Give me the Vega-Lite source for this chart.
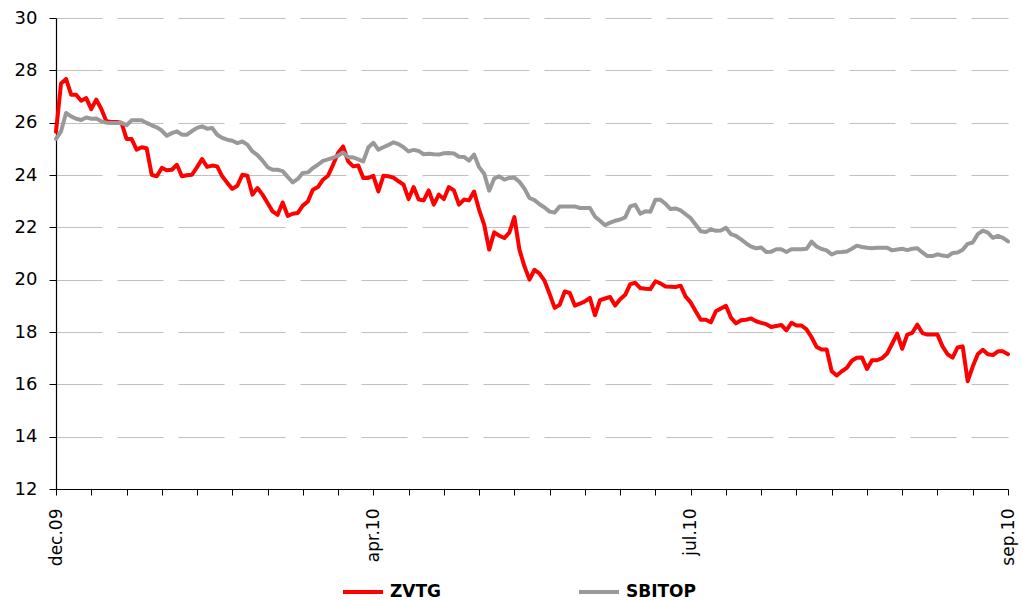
{
  "$schema": "https://vega.github.io/schema/vega-lite/v6.json",
  "width": 952,
  "height": 471,
  "autosize": {"type": "none"},
  "padding": {"left": 56, "top": 18, "right": 15, "bottom": 111},
  "background": "white",
  "config": {
    "view": {"stroke": null},
    "font": "DejaVu Sans",
    "axis": {"labelFont": "DejaVu Sans", "labelColor": "#000000", "labelFontSize": 17}
  },
  "data": {
    "values": [
      {"t":0,"ZVTG":25.65,"SBITOP":25.38},{"t":1,"ZVTG":27.5,"SBITOP":25.67},{"t":2,"ZVTG":27.67,"SBITOP":26.37},{"t":3,"ZVTG":27.07,"SBITOP":26.24},{"t":4,"ZVTG":27.07,"SBITOP":26.15},
      {"t":5,"ZVTG":26.84,"SBITOP":26.1},{"t":6,"ZVTG":26.94,"SBITOP":26.2},{"t":7,"ZVTG":26.52,"SBITOP":26.15},{"t":8,"ZVTG":26.88,"SBITOP":26.16},{"t":9,"ZVTG":26.52,"SBITOP":26.05},
      {"t":10,"ZVTG":26.05,"SBITOP":26.0},{"t":11,"ZVTG":26.03,"SBITOP":25.99},{"t":12,"ZVTG":26.03,"SBITOP":25.99},{"t":13,"ZVTG":26.0,"SBITOP":25.99},{"t":14,"ZVTG":25.38,"SBITOP":25.9},
      {"t":15,"ZVTG":25.38,"SBITOP":26.09},{"t":16,"ZVTG":24.97,"SBITOP":26.09},{"t":17,"ZVTG":25.06,"SBITOP":26.09},{"t":18,"ZVTG":25.02,"SBITOP":25.99},{"t":19,"ZVTG":24.01,"SBITOP":25.9},
      {"t":20,"ZVTG":23.95,"SBITOP":25.82},{"t":21,"ZVTG":24.27,"SBITOP":25.7},{"t":22,"ZVTG":24.18,"SBITOP":25.5},{"t":23,"ZVTG":24.2,"SBITOP":25.6},{"t":24,"ZVTG":24.39,"SBITOP":25.67},
      {"t":25,"ZVTG":23.95,"SBITOP":25.54},{"t":26,"ZVTG":23.99,"SBITOP":25.54},{"t":27,"ZVTG":24.01,"SBITOP":25.68},{"t":28,"ZVTG":24.3,"SBITOP":25.8},{"t":29,"ZVTG":24.61,"SBITOP":25.86},
      {"t":30,"ZVTG":24.31,"SBITOP":25.77},{"t":31,"ZVTG":24.36,"SBITOP":25.8},{"t":32,"ZVTG":24.33,"SBITOP":25.54},{"t":33,"ZVTG":23.95,"SBITOP":25.42},{"t":34,"ZVTG":23.7,"SBITOP":25.35},
      {"t":35,"ZVTG":23.47,"SBITOP":25.31},{"t":36,"ZVTG":23.59,"SBITOP":25.22},{"t":37,"ZVTG":24.01,"SBITOP":25.28},{"t":38,"ZVTG":23.97,"SBITOP":25.16},{"t":39,"ZVTG":23.25,"SBITOP":24.9},
      {"t":40,"ZVTG":23.5,"SBITOP":24.76},{"t":41,"ZVTG":23.25,"SBITOP":24.55},{"t":42,"ZVTG":22.93,"SBITOP":24.3},{"t":43,"ZVTG":22.61,"SBITOP":24.2},{"t":44,"ZVTG":22.48,"SBITOP":24.2},
      {"t":45,"ZVTG":22.95,"SBITOP":24.15},{"t":46,"ZVTG":22.44,"SBITOP":23.93},{"t":47,"ZVTG":22.52,"SBITOP":23.72},{"t":48,"ZVTG":22.55,"SBITOP":23.85},{"t":49,"ZVTG":22.83,"SBITOP":24.08},
      {"t":50,"ZVTG":22.99,"SBITOP":24.1},{"t":51,"ZVTG":23.44,"SBITOP":24.27},{"t":52,"ZVTG":23.54,"SBITOP":24.39},{"t":53,"ZVTG":23.82,"SBITOP":24.54},{"t":54,"ZVTG":23.97,"SBITOP":24.6},
      {"t":55,"ZVTG":24.39,"SBITOP":24.66},{"t":56,"ZVTG":24.84,"SBITOP":24.74},{"t":57,"ZVTG":25.09,"SBITOP":24.86},{"t":58,"ZVTG":24.52,"SBITOP":24.69},{"t":59,"ZVTG":24.33,"SBITOP":24.67},
      {"t":60,"ZVTG":24.36,"SBITOP":24.6},{"t":61,"ZVTG":23.89,"SBITOP":24.52},{"t":62,"ZVTG":23.89,"SBITOP":25.05},{"t":63,"ZVTG":23.97,"SBITOP":25.23},{"t":64,"ZVTG":23.37,"SBITOP":24.97},
      {"t":65,"ZVTG":23.97,"SBITOP":25.06},{"t":66,"ZVTG":23.95,"SBITOP":25.15},{"t":67,"ZVTG":23.9,"SBITOP":25.25},{"t":68,"ZVTG":23.76,"SBITOP":25.18},{"t":69,"ZVTG":23.63,"SBITOP":25.06},
      {"t":70,"ZVTG":23.08,"SBITOP":24.9},{"t":71,"ZVTG":23.54,"SBITOP":24.96},{"t":72,"ZVTG":23.06,"SBITOP":24.92},{"t":73,"ZVTG":23.03,"SBITOP":24.79},{"t":74,"ZVTG":23.41,"SBITOP":24.81},
      {"t":75,"ZVTG":22.87,"SBITOP":24.79},{"t":76,"ZVTG":23.25,"SBITOP":24.78},{"t":77,"ZVTG":23.08,"SBITOP":24.83},{"t":78,"ZVTG":23.54,"SBITOP":24.84},{"t":79,"ZVTG":23.41,"SBITOP":24.82},
      {"t":80,"ZVTG":22.87,"SBITOP":24.7},{"t":81,"ZVTG":23.06,"SBITOP":24.69},{"t":82,"ZVTG":23.03,"SBITOP":24.55},{"t":83,"ZVTG":23.37,"SBITOP":24.78},{"t":84,"ZVTG":22.67,"SBITOP":24.3},
      {"t":85,"ZVTG":22.1,"SBITOP":24.05},{"t":86,"ZVTG":21.15,"SBITOP":23.4},{"t":87,"ZVTG":21.81,"SBITOP":23.87},{"t":88,"ZVTG":21.68,"SBITOP":23.95},{"t":89,"ZVTG":21.59,"SBITOP":23.82},
      {"t":90,"ZVTG":21.8,"SBITOP":23.89},{"t":91,"ZVTG":22.39,"SBITOP":23.9},{"t":92,"ZVTG":21.15,"SBITOP":23.74},{"t":93,"ZVTG":20.51,"SBITOP":23.48},{"t":94,"ZVTG":20.0,"SBITOP":23.12},
      {"t":95,"ZVTG":20.38,"SBITOP":23.04},{"t":96,"ZVTG":20.23,"SBITOP":22.88},{"t":97,"ZVTG":19.95,"SBITOP":22.76},{"t":98,"ZVTG":19.45,"SBITOP":22.6},{"t":99,"ZVTG":18.92,"SBITOP":22.57},
      {"t":100,"ZVTG":19.04,"SBITOP":22.8},{"t":101,"ZVTG":19.55,"SBITOP":22.8},{"t":102,"ZVTG":19.49,"SBITOP":22.8},{"t":103,"ZVTG":19.01,"SBITOP":22.8},{"t":104,"ZVTG":19.08,"SBITOP":22.74},
      {"t":105,"ZVTG":19.17,"SBITOP":22.74},{"t":106,"ZVTG":19.3,"SBITOP":22.74},{"t":107,"ZVTG":18.64,"SBITOP":22.41},{"t":108,"ZVTG":19.22,"SBITOP":22.25},{"t":109,"ZVTG":19.28,"SBITOP":22.08},
      {"t":110,"ZVTG":19.34,"SBITOP":22.18},{"t":111,"ZVTG":19.01,"SBITOP":22.25},{"t":112,"ZVTG":19.25,"SBITOP":22.3},{"t":113,"ZVTG":19.42,"SBITOP":22.38},{"t":114,"ZVTG":19.83,"SBITOP":22.8},
      {"t":115,"ZVTG":19.88,"SBITOP":22.86},{"t":116,"ZVTG":19.68,"SBITOP":22.52},{"t":117,"ZVTG":19.65,"SBITOP":22.61},{"t":118,"ZVTG":19.64,"SBITOP":22.6},{"t":119,"ZVTG":19.94,"SBITOP":23.05},
      {"t":120,"ZVTG":19.86,"SBITOP":23.05},{"t":121,"ZVTG":19.74,"SBITOP":22.9},{"t":122,"ZVTG":19.73,"SBITOP":22.7},{"t":123,"ZVTG":19.72,"SBITOP":22.72},{"t":124,"ZVTG":19.77,"SBITOP":22.65},
      {"t":125,"ZVTG":19.35,"SBITOP":22.5},{"t":126,"ZVTG":19.13,"SBITOP":22.35},{"t":127,"ZVTG":18.79,"SBITOP":22.1},{"t":128,"ZVTG":18.47,"SBITOP":21.85},{"t":129,"ZVTG":18.47,"SBITOP":21.82},
      {"t":130,"ZVTG":18.37,"SBITOP":21.92},{"t":131,"ZVTG":18.79,"SBITOP":21.87},{"t":132,"ZVTG":18.9,"SBITOP":21.88},{"t":133,"ZVTG":19.0,"SBITOP":21.98},{"t":134,"ZVTG":18.55,"SBITOP":21.74},
      {"t":135,"ZVTG":18.33,"SBITOP":21.67},{"t":136,"ZVTG":18.45,"SBITOP":21.54},{"t":137,"ZVTG":18.47,"SBITOP":21.39},{"t":138,"ZVTG":18.52,"SBITOP":21.26},{"t":139,"ZVTG":18.41,"SBITOP":21.2},
      {"t":140,"ZVTG":18.35,"SBITOP":21.23},{"t":141,"ZVTG":18.3,"SBITOP":21.06},{"t":142,"ZVTG":18.19,"SBITOP":21.07},{"t":143,"ZVTG":18.23,"SBITOP":21.16},{"t":144,"ZVTG":18.27,"SBITOP":21.16},
      {"t":145,"ZVTG":18.06,"SBITOP":21.06},{"t":146,"ZVTG":18.35,"SBITOP":21.16},{"t":147,"ZVTG":18.25,"SBITOP":21.16},{"t":148,"ZVTG":18.25,"SBITOP":21.16},{"t":149,"ZVTG":18.1,"SBITOP":21.18},
      {"t":150,"ZVTG":17.8,"SBITOP":21.45},{"t":151,"ZVTG":17.43,"SBITOP":21.27},{"t":152,"ZVTG":17.33,"SBITOP":21.17},{"t":153,"ZVTG":17.33,"SBITOP":21.12},{"t":154,"ZVTG":16.5,"SBITOP":20.96},
      {"t":155,"ZVTG":16.34,"SBITOP":21.05},{"t":156,"ZVTG":16.5,"SBITOP":21.06},{"t":157,"ZVTG":16.63,"SBITOP":21.08},{"t":158,"ZVTG":16.9,"SBITOP":21.18},{"t":159,"ZVTG":17.02,"SBITOP":21.3},
      {"t":160,"ZVTG":17.03,"SBITOP":21.25},{"t":161,"ZVTG":16.59,"SBITOP":21.22},{"t":162,"ZVTG":16.92,"SBITOP":21.2},{"t":163,"ZVTG":16.92,"SBITOP":21.22},{"t":164,"ZVTG":17.0,"SBITOP":21.22},
      {"t":165,"ZVTG":17.18,"SBITOP":21.22},{"t":166,"ZVTG":17.55,"SBITOP":21.12},{"t":167,"ZVTG":17.94,"SBITOP":21.15},{"t":168,"ZVTG":17.36,"SBITOP":21.18},{"t":169,"ZVTG":17.9,"SBITOP":21.13},
      {"t":170,"ZVTG":17.97,"SBITOP":21.18},{"t":171,"ZVTG":18.28,"SBITOP":21.2},{"t":172,"ZVTG":17.96,"SBITOP":21.04},{"t":173,"ZVTG":17.9,"SBITOP":20.9},{"t":174,"ZVTG":17.9,"SBITOP":20.9},
      {"t":175,"ZVTG":17.9,"SBITOP":20.97},{"t":176,"ZVTG":17.45,"SBITOP":20.92},{"t":177,"ZVTG":17.15,"SBITOP":20.89},{"t":178,"ZVTG":17.02,"SBITOP":21.02},{"t":179,"ZVTG":17.41,"SBITOP":21.04},
      {"t":180,"ZVTG":17.45,"SBITOP":21.14},{"t":181,"ZVTG":16.12,"SBITOP":21.37},{"t":182,"ZVTG":16.68,"SBITOP":21.42},{"t":183,"ZVTG":17.15,"SBITOP":21.74},{"t":184,"ZVTG":17.32,"SBITOP":21.87},
      {"t":185,"ZVTG":17.15,"SBITOP":21.8},{"t":186,"ZVTG":17.12,"SBITOP":21.6},{"t":187,"ZVTG":17.26,"SBITOP":21.67},{"t":188,"ZVTG":17.26,"SBITOP":21.6},{"t":189,"ZVTG":17.15,"SBITOP":21.46}
    ]
  },
  "transform": [{"fold": ["ZVTG", "SBITOP"], "as": ["series", "value"]}],
  "encoding": {
    "x": {
      "field": "t",
      "type": "quantitative",
      "scale": {"domain": [0, 189], "nice": false, "zero": false},
      "axis": {
        "title": null,
        "grid": false,
        "values": [0,7,14,21,28,35,42,49,56,63,70,77,84,91,98,105,112,119,126,133,140,147,154,161,168,175,182,189],
        "labelExpr": "datum.value == 0 ? 'dec.09' : datum.value == 63 ? 'apr.10' : datum.value == 126 ? 'jul.10' : datum.value == 189 ? 'sep.10' : ''",
        "labelAngle": -90,
        "labelAlign": "right",
        "labelBaseline": "middle",
        "labelPadding": 13,
        "labelOverlap": false,
        "labelBound": false,
        "labelFlush": false,
        "tickSize": 6,
        "tickColor": "#000000",
        "domainColor": "#000000",
        "domainWidth": 1.2,
        "tickWidth": 1
      }
    },
    "y": {
      "field": "value",
      "type": "quantitative",
      "scale": {"domain": [12, 30], "nice": false, "zero": false},
      "axis": {
        "title": null,
        "values": [12,14,16,18,20,22,24,26,28,30],
        "grid": true,
        "gridColor": "#c0c0c0",
        "gridDash": [46, 15],
        "gridWidth": 1.2,
        "tickSize": 7,
        "tickColor": "#000000",
        "domainColor": "#000000",
        "domainWidth": 1.2,
        "labelPadding": 12,
        "labelFontSize": 18,
        "labelFlush": false
      }
    },
    "color": {
      "field": "series",
      "type": "nominal",
      "scale": {"domain": ["ZVTG", "SBITOP"], "range": ["#ff0000", "#999999"]},
      "legend": {
        "title": null,
        "orient": "none",
        "legendX": 285,
        "legendY": 552,
        "direction": "horizontal",
        "columnPadding": 129,
        "symbolType": "stroke",
        "symbolSize": 1600,
        "symbolStrokeWidth": 4,
        "labelFontSize": 17,
        "labelFontWeight": "bold",
        "labelFont": "DejaVu Sans",
        "labelColor": "#000000",
        "labelOffset": 5
      }
    }
  },
  "layer": [
    {
      "transform": [{"filter": "datum.series == 'ZVTG'"}],
      "mark": {"type": "line", "strokeWidth": 4, "strokeJoin": "round", "strokeCap": "round"}
    },
    {
      "transform": [{"filter": "datum.series == 'SBITOP'"}],
      "mark": {"type": "line", "strokeWidth": 4, "strokeJoin": "round", "strokeCap": "round"}
    }
  ]
}
